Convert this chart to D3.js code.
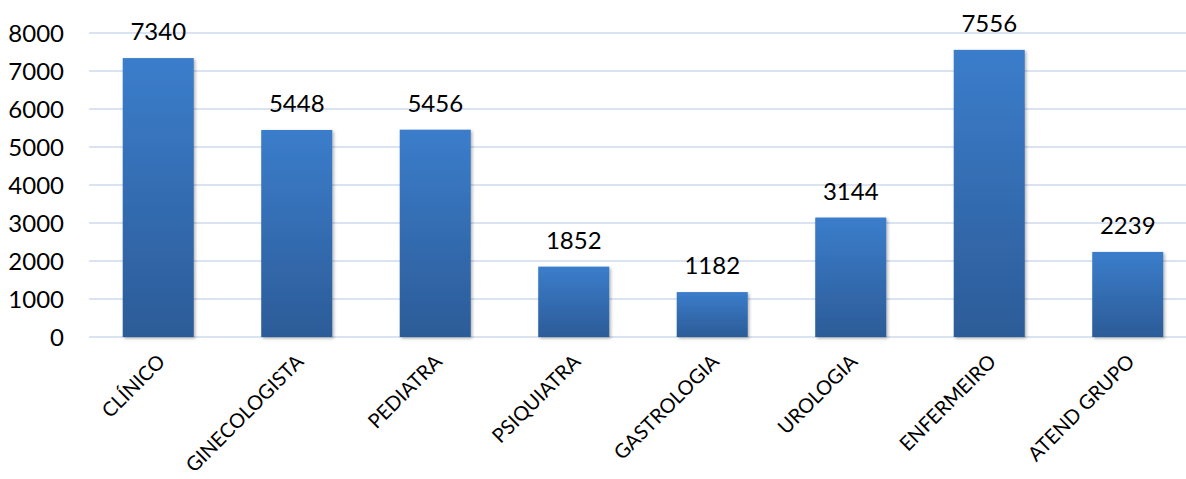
<!DOCTYPE html>
<html>
<head>
<meta charset="utf-8">
<script src="https://cdn.jsdelivr.net/npm/d3@7"></script>
<style>
  body { margin: 0; background: #fff; }
  svg { display: block; font-family: Lato, "Open Sans", sans-serif; }
</style>
</head>
<body>
<svg id="chart" width="1186" height="479"></svg>
<script>
// data
const categories = ["CLÍNICO", "GINECOLOGISTA", "PEDIATRA", "PSIQUIATRA", "GASTROLOGIA", "UROLOGIA", "ENFERMEIRO", "ATEND GRUPO"];
const values = [7340, 5448, 5456, 1852, 1182, 3144, 7556, 2239];
const yTicks = [0, 1000, 2000, 3000, 4000, 5000, 6000, 7000, 8000];

const svg = d3.select("#chart");

const x = d3.scaleBand()
  .domain(categories)
  .range([89, 1197])
  .paddingInner(0.487)
  .paddingOuter(0.2435);

const y = d3.scaleLinear()
  .domain([0, 8000])
  .range([337, 33]);

// gradient for bars
const defs = svg.append("defs");
const grad = defs.append("linearGradient")
  .attr("id", "barGrad")
  .attr("x1", 0).attr("y1", 0).attr("x2", 0).attr("y2", 1);
grad.append("stop").attr("offset", "0%").attr("stop-color", "#3b7dcb");
grad.append("stop").attr("offset", "100%").attr("stop-color", "#2c5c98");

const shadow = defs.append("filter")
  .attr("id", "shadow")
  .attr("x", "-20%").attr("y", "-20%").attr("width", "140%").attr("height", "140%");
shadow.append("feDropShadow")
  .attr("dx", 1.5).attr("dy", 1.5).attr("stdDeviation", 1.5)
  .attr("flood-color", "#000").attr("flood-opacity", 0.3);

// gridlines
svg.append("g")
  .selectAll("line")
  .data(yTicks)
  .join("line")
  .attr("x1", 89)
  .attr("x2", 1197)
  .attr("y1", d => y(d))
  .attr("y2", d => y(d))
  .attr("stroke", "#d9e3f1")
  .attr("stroke-width", 2);

// y axis labels
const yAxis = d3.axisLeft(y).tickValues(yTicks).tickFormat(d3.format("d")).tickSize(0).tickPadding(0);
svg.append("g")
  .attr("transform", "translate(64,0)")
  .call(yAxis)
  .call(g => g.select(".domain").remove())
  .selectAll("text")
  .attr("font-size", 24)
  .attr("font-family", "Lato, 'Open Sans', sans-serif")
  .attr("fill", "#000")
  .attr("dy", "0.36em");

// bars
svg.append("g")
  .selectAll("rect")
  .data(values)
  .join("rect")
  .attr("x", (d, i) => x(categories[i]))
  .attr("y", d => y(d))
  .attr("width", x.bandwidth())
  .attr("height", d => y(0) - y(d))
  .attr("fill", "url(#barGrad)")
  .attr("filter", "url(#shadow)");

// value labels
svg.append("g")
  .selectAll("text")
  .data(values)
  .join("text")
  .attr("x", (d, i) => x(categories[i]) + x.bandwidth() / 2)
  .attr("y", d => y(d) - 18)
  .attr("text-anchor", "middle")
  .attr("font-size", 24)
  .attr("fill", "#000")
  .text(d => d);

// category labels, rotated
const xAxis = d3.axisBottom(x).tickSize(0).tickPadding(0);
svg.append("g")
  .attr("transform", "translate(0,337)")
  .call(xAxis)
  .call(g => g.select(".domain").remove())
  .selectAll("text")
  .attr("font-size", 20)
  .attr("font-family", "Lato, 'Open Sans', sans-serif")
  .attr("fill", "#000")
  .attr("text-anchor", "end")
  .attr("dy", null)
  .attr("y", 0)
  .attr("transform", "translate(8,26) rotate(-45)");
</script>
</body>
</html>
